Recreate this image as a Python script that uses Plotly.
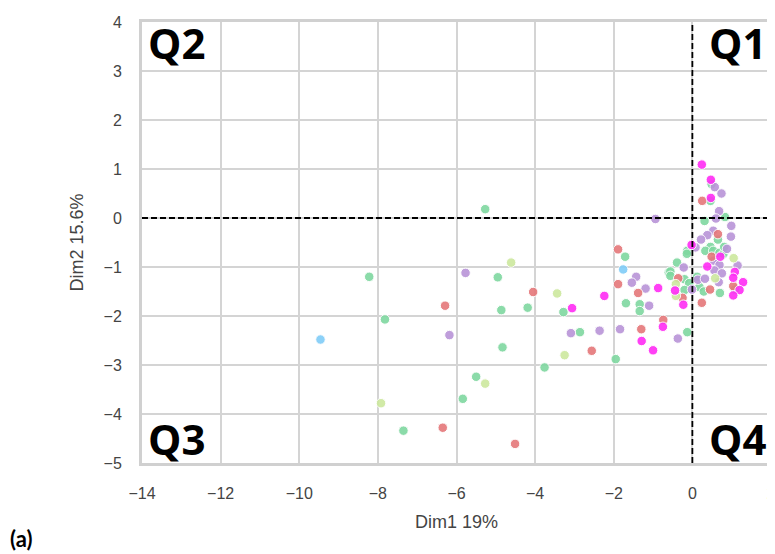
import plotly.graph_objects as go

# ---- data ----
red_x = [-4.05, -6.29, -2.56, -6.35, -4.51, -1.89, -1.89, -1.38, -0.74, -1.30, 0.25, 0.65, 0.49, -0.36, 0.45, 1.04, -0.25, 0.24]
red_y = [-1.51, -1.79, -2.71, -4.28, -4.61, -0.64, -1.35, -1.53, -2.08, -2.27, 0.35, -0.33, -0.79, -1.23, -1.46, -1.39, -1.63, -1.73]

green_x = [-5.27, -4.95, -4.86, -4.19, -3.28, -8.22, -7.82, -4.83, -2.86, -3.76, -5.50, -5.84, -7.35,
           -1.71, -1.69, -1.34, -1.34, -0.60, 0.49, 0.46, 0.83, 0.31, 0.65, 0.46, 0.33, -0.13, -0.14,
           0.53, 0.69, 0.79, 0.81, -0.39, -0.56, -0.56, -0.20, 0.12, -0.08, -0.20, 0.18, 0.29, 1.08,
           0.70, -0.13, -1.95]
green_y = [0.18, -1.21, -1.88, -1.83, -1.92, -1.20, -2.07, -2.64, -2.33, -3.05, -3.24, -3.69, -4.34,
           -0.79, -1.74, -1.76, -1.90, -1.11, 0.69, 0.35, 0.02, -0.06, -0.44, -0.59, -0.67, -0.67, -0.73,
           -0.67, -0.71, -0.73, -0.59, -0.91, -1.09, -1.18, -1.25, -1.20, -1.33, -1.47, -1.41, -1.50, -1.46,
           -1.53, -2.33, -2.88]

purple_x = [-5.77, -6.18, -3.09, -2.36, -1.43, -1.54, -1.19, -1.10, 0.57, 0.74, 0.68, 0.60, -0.94,
            0.99, 0.53, 0.38, 0.22, 0.98, 0.08, 0.88, 0.54, 1.15, -0.22, 0.69, 0.56, 0.75, 0.14, 0.32,
            0.67, -0.01, -1.84, -0.37]
purple_y = [-1.12, -2.39, -2.35, -2.30, -1.20, -1.32, -1.44, -1.79, 0.63, 0.50, 0.14, -0.01, -0.02,
            -0.16, -0.26, -0.35, -0.44, -0.38, -0.60, -0.63, -0.87, -0.97, -1.01, -0.96, -1.07, -1.13, -1.26, -1.24,
            -1.31, -1.46, -2.27, -2.46]

magenta_x = [-2.24, -3.06, -0.87, 0.24, 0.47, 0.47, -0.02, 0.71, 0.38, 1.08, 1.04, 1.29, -0.44, 1.20,
             1.04, -0.23, -0.75, -1.29, -1.00]
magenta_y = [-1.59, -1.84, -1.43, 1.09, 0.78, 0.41, -0.55, -0.79, -0.99, -1.10, -1.22, -1.31, -1.48, -1.47,
             -1.58, -1.77, -2.22, -2.51, -2.70]

blue_x = [-9.46, -1.76]
blue_y = [-2.48, -1.05]

lime_x = [-4.61, -3.44, -3.25, -5.27, -7.92, 1.05, 0.58, -0.42, -0.42]
lime_y = [-0.91, -1.54, -2.80, -3.38, -3.78, -0.82, -1.23, -1.35, -1.59]

x_ticks = [-14, -12, -10, -8, -6, -4, -2, 0, 2]
y_ticks = [-5, -4, -3, -2, -1, 0, 1, 2, 3, 4]
quad_labels = ["Q1", "Q2", "Q3", "Q4"]

fig = go.Figure()
series = [
    (green_x, green_y, "#7fd8a0"),
    (purple_x, purple_y, "#b994d8"),
    (red_x, red_y, "#e5777a"),
    (lime_x, lime_y, "#cde89e"),
    (magenta_x, magenta_y, "#ff2cf5"),
    (blue_x, blue_y, "#80cdf8"),
]
for xs, ys, c in series:
    fig.add_trace(go.Scatter(
        x=xs, y=ys, mode="markers",
        marker=dict(size=9.5, color=c, opacity=0.9, line=dict(color="white", width=1)),
        showlegend=False, hoverinfo="x+y"))

fig.add_hline(y=0, line=dict(color="black", width=1.8, dash="6px,3px"))
fig.add_vline(x=0, line=dict(color="black", width=1.8, dash="6px,3px"))

qfont = dict(family="Open Sans, Liberation Sans, sans-serif", size=42, color="black", weight="bold")
for txt, xx, yy, xa, ya in [(quad_labels[0], 1, 1, "right", "top"), (quad_labels[1], 0, 1, "left", "top"),
                            (quad_labels[2], 0, 0, "left", "bottom"), (quad_labels[3], 1, 0, "right", "bottom")]:
    fig.add_annotation(text=txt, xref="x domain", yref="y domain", x=xx, y=yy,
                       xanchor=xa, yanchor=ya, showarrow=False, font=qfont,
                       xshift=(4 if xa == "left" else -3), yshift=(10 if ya == "top" else -6))

fig.add_annotation(text="(a)", xref="paper", yref="paper", x=-134 / 629, y=-91 / 441,
                   xanchor="left", yanchor="bottom", showarrow=False,
                   font=dict(family="Lato, sans-serif", size=22, color="black", weight="bold"))

tfont = dict(family="Liberation Sans, Arial, sans-serif", size=16, color="#444")
axis_common = dict(showgrid=True, gridcolor="#d4d4d4", gridwidth=2, zeroline=False,
                   showline=True, linecolor="#d0d0d0", linewidth=3, mirror=True,
                   ticks="", tickfont=tfont, automargin=False,
                   title_font=dict(family="Liberation Sans, Arial, sans-serif", size=18, color="#444"))

fig.update_xaxes(range=[-14, 2], tickvals=x_ticks, ticklabelstandoff=14,
                 title_text="Dim1 19%", title_standoff=15, **axis_common)
fig.update_yaxes(range=[-5, 4], tickvals=y_ticks, ticklabelstandoff=14,
                 title_text="Dim2 15.6%", title_standoff=16, **axis_common)

fig.update_layout(width=775, height=554, margin=dict(l=134, r=12, t=14, b=99),
                  plot_bgcolor="white", paper_bgcolor="white")

fig.write_html("out.html")
